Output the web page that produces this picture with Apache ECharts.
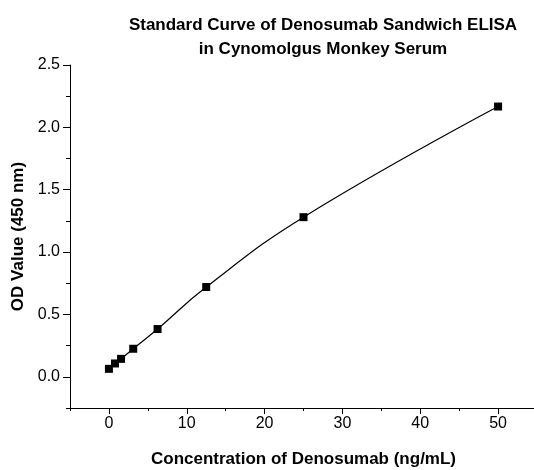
<!DOCTYPE html>
<html>
<head>
<meta charset="utf-8">
<script src="https://cdn.jsdelivr.net/npm/echarts@6/dist/echarts.min.js"></script>
<style>
  html, body { margin: 0; padding: 0; background: #fff; }
  #chart { width: 534px; height: 470px; }
</style>
</head>
<body>
<div id="chart"></div>
<script>
// concentration (ng/mL) and OD values
const conc = [0, 0.78, 1.56, 3.125, 6.25, 12.5, 25, 50];
const od = [0.064, 0.107, 0.144, 0.225, 0.383, 0.72, 1.28, 2.167];
// tick labels
const xTicks = [0, 10, 20, 30, 40, 50];
const yTicks = [0, 0.5, 1, 1.5, 2, 2.5];

const chart = echarts.init(document.getElementById("chart"));
const font = "Liberation Sans, Arial, sans-serif";

const common = {
  type: "value",
  splitLine: { show: false },
};

const option = {
  animation: false,
  title: {
    text: "Standard Curve of Denosumab Sandwich ELISA\nin Cynomolgus Monkey Serum",
    left: 318,
    top: 8,
    textAlign: "center",
    textStyle: {
      fontFamily: font,
      fontWeight: "bold",
      fontSize: 17,
      lineHeight: 24,
      color: "#000",
    },
  },
  grid: {
    left: 70,
    right: -3,
    top: 65,
    bottom: 62,
    outerBoundsMode: "none",
  },
  xAxis: [
    {
      ...common,
      min: -5,
      max: 55,
      interval: 5,
      position: "bottom",
      name: "Concentration of Denosumab (ng/mL)",
      nameLocation: "middle",
      nameGap: 43,
      nameTextStyle: { fontFamily: font, fontWeight: "bold", fontSize: 17, color: "#000" },
      axisLine: { onZero: false, lineStyle: { color: "#000", width: 1 } },
      axisTick: { length: 6, customValues: xTicks, lineStyle: { color: "#000" } },
      axisLabel: {
        fontFamily: font,
        fontSize: 16,
        color: "#000",
        margin: 8,
        customValues: xTicks,
      },
    },
    {
      // minor ticks
      ...common,
      min: -5,
      max: 55,
      interval: 5,
      position: "bottom",
      axisLine: { show: false, onZero: false },
      axisTick: { length: 3, lineStyle: { color: "#000" } },
      axisLabel: { show: false },
    },
  ],
  yAxis: [
    {
      ...common,
      min: -0.25,
      max: 2.5,
      interval: 0.25,
      name: "OD Value (450 nm)",
      nameLocation: "middle",
      nameGap: 42,
      nameTextStyle: { fontFamily: font, fontWeight: "bold", fontSize: 17, color: "#000" },
      axisLine: { show: true, onZero: false, lineStyle: { color: "#000", width: 1 } },
      axisTick: { show: true, length: 7, customValues: yTicks, lineStyle: { color: "#000" } },
      axisLabel: {
        fontFamily: font,
        fontSize: 16,
        color: "#000",
        margin: 10,
        customValues: yTicks,
        formatter: (v) => v.toFixed(1),
      },
    },
    {
      // minor ticks
      ...common,
      min: -0.25,
      max: 2.5,
      interval: 0.25,
      position: "left",
      axisLine: { show: false, onZero: false },
      axisTick: { show: true, length: 4, lineStyle: { color: "#000" } },
      axisLabel: { show: false },
    },
  ],
  series: [
    {
      type: "line",
      data: conc.map((c, i) => [c, od[i]]),
      smooth: 0.45,
      symbol: "rect",
      symbolSize: 8,
      itemStyle: { color: "#000" },
      lineStyle: { color: "#000", width: 1.2 },
    },
  ],
};
chart.setOption(option);
</script>
</body>
</html>
